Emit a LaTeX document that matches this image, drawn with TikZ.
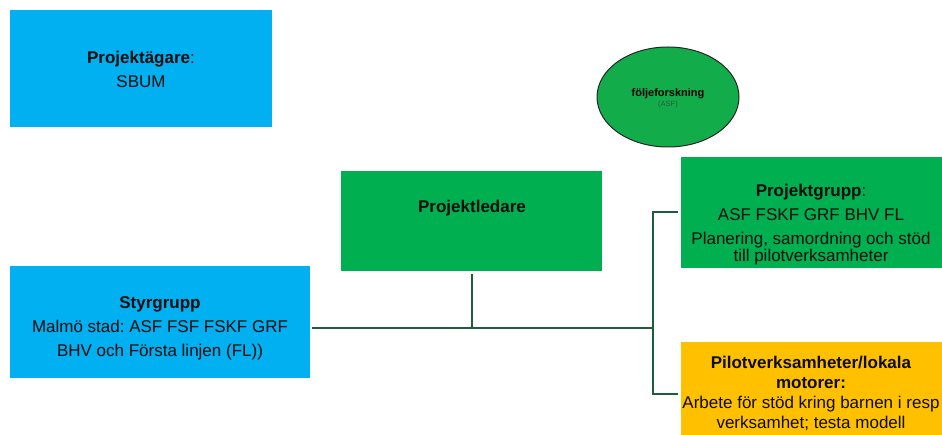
\documentclass[tikz,border=0pt]{standalone}
\usepackage{fontspec}
\setmainfont{Liberation Sans}
\usetikzlibrary{shapes.geometric}
\definecolor{cblue}{HTML}{00B0F0}
\definecolor{cgreen}{HTML}{00B050}
\definecolor{cyel}{HTML}{FFC000}
\definecolor{cline}{HTML}{1F5C3A}
\definecolor{cell}{HTML}{12AC4A}
\definecolor{csub}{HTML}{2F5A3E}
\frenchspacing
\begin{document}
\begin{tikzpicture}[x=1pt,y=-1pt,
  box/.style={rectangle, inner sep=0pt, outer sep=0pt, anchor=north west},
  txt/.style={align=center, font=\fontsize{17}{24}\selectfont, text=black!95, inner sep=0pt},
  bus/.style={draw=cline, line width=2.8pt},
  link/.style={draw=cline, line width=2pt}]
\useasboundingbox (0,0) rectangle (942,435);

% boxes
\node[box, fill=cblue, minimum width=262pt, minimum height=117pt] (owner) at (10,10) {};
\node[box, fill=cgreen, minimum width=261pt, minimum height=100pt] (leader) at (341,171) {};
\node[box, fill=cblue, minimum width=300pt, minimum height=112pt] (steer) at (10,266) {};
\node[box, fill=cgreen, minimum width=261pt, minimum height=111pt] (group) at (681,157) {};
\node[box, fill=cyel, minimum width=261pt, minimum height=93pt] (pilot) at (681,342) {};
\node[ellipse, draw=black!85, line width=1pt, fill=cell, minimum width=142pt, minimum height=100pt, inner sep=0pt] (follow) at (668,97) {};

% texts
\node[txt] (ownertxt) at (141,69) {\textbf{Projektägare}:\\SBUM};
\node[txt] (leadertxt) at (472,208) {\textbf{Projektledare}};
\node[txt] (steertxt) at (160,328.5) {\textbf{Styrgrupp}\\Malmö stad: ASF FSF FSKF GRF\\BHV och Första linjen (FL))};
\node[txt] (grouptxt) at (811,225) {\textbf{Projektgrupp}:\\ASF FSKF GRF BHV FL\\Planering, samordning och stöd\\[-7pt]till pilotverksamheter};
\node[txt, font=\fontsize{17}{20}\selectfont] (pilottxt) at (811,393.5) {\textbf{Pilotverksamheter/lokala}\\\textbf{motorer:}\\Arbete för stöd kring barnen i resp\\verksamhet; testa modell};
\node[align=center, inner sep=0pt] (followtxt) at (668,98) {\fontsize{11}{12}\selectfont\textbf{följeforskning}\\[-2pt]\fontsize{7.5}{8}\selectfont\color{csub}(ASF)};

% connectors
\coordinate (busL) at (312,328);
\coordinate (busM) at (472,328);
\coordinate (busR) at (653,328);
\coordinate (vTop) at (653,212.5);
\coordinate (vBot) at (653,394);
\coordinate (pilotIn) at (678,394);
\coordinate (leadOut) at (472,274);
\coordinate (groupIn) at (678,212.5);
\draw[bus] (busL) -- (busR);
\draw[link] (leadOut) -- (busM);
\draw[link, line join=miter] (groupIn) -- (vTop) -- (vBot) -- (pilotIn);
\end{tikzpicture}
\end{document}
